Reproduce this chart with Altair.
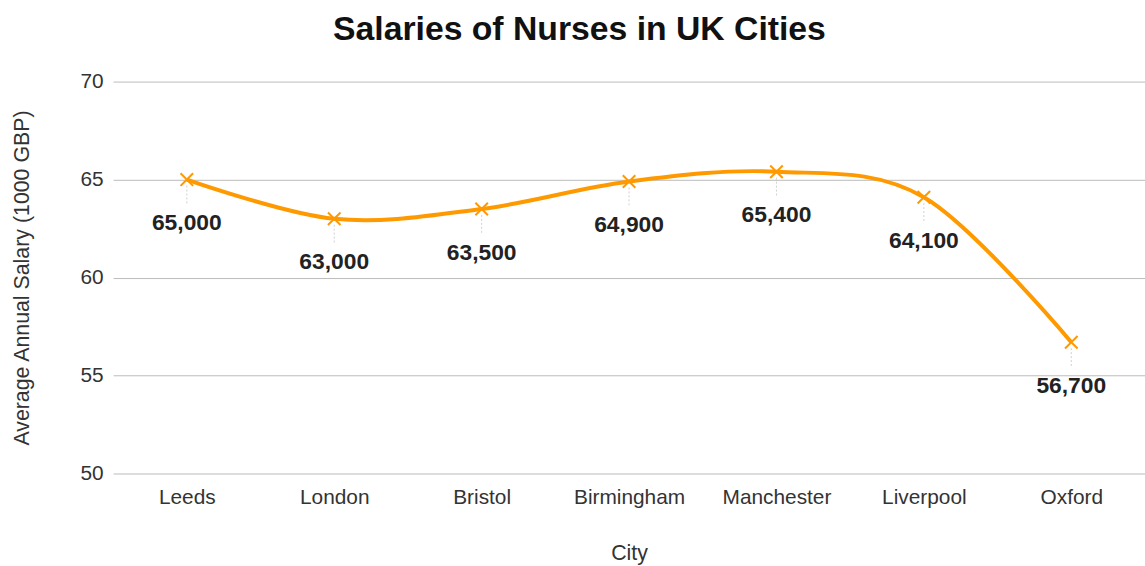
import altair as alt
import pandas as pd

cities = ["Leeds", "London", "Bristol", "Birmingham", "Manchester", "Liverpool", "Oxford"]
salaries = [65.0, 63.0, 63.5, 64.9, 65.4, 64.1, 56.7]
labels = ["65,000", "63,000", "63,500", "64,900", "65,400", "64,100", "56,700"]

df = pd.DataFrame({"City": cities, "Salary": salaries, "Label": labels})

FONT = "Liberation Sans"
ORANGE = "#FF9900"

x = alt.X("City:N", sort=cities, title="City",
          scale=alt.Scale(type="point", padding=0.5),
          axis=alt.Axis(labelAngle=0, labelPadding=13, titleY=81, titleBaseline="middle",
                        domain=False, ticks=False, grid=False))
y = alt.Y("Salary:Q", title="Average Annual Salary (1000 GBP)",
          scale=alt.Scale(domain=[50, 70], nice=False, zero=False),
          axis=alt.Axis(values=[50, 55, 60, 65, 70], labelPadding=10, domain=False, ticks=False,
                        titleX=-91, titleBaseline="middle", gridColor="#bbbbbb"))

base = alt.Chart(df).encode(x=x, y=y)

leaders = base.mark_rule(color="#d0d0d0", strokeDash=[2, 2], strokeWidth=1, yOffset=6, y2Offset=26).encode(
    y2="Salary:Q")
line = base.mark_line(color=ORANGE, strokeWidth=4, interpolate="cardinal")
points = base.mark_point(shape="M-1,-1L1,1M-1,1L1,-1", size=160, color=ORANGE, strokeWidth=2,
                         filled=False, opacity=1)
text = base.mark_text(font=FONT, fontSize=23, fontWeight="bold", color="#222222", dy=44,
                      baseline="middle").encode(text="Label:N")

chart = alt.layer(leaders, line, points, text).properties(
    width=1040, height=395,
    title=alt.TitleParams("Salaries of Nurses in UK Cities", font=FONT, fontSize=34, fontWeight="bold",
                          color="#111111", anchor="middle", offset=24, dx=-50),
    autosize=alt.AutoSizeParams(type="none"),
    padding={"left": 114, "top": 80, "right": 0, "bottom": 91},
).configure_view(stroke=None).configure_axis(
    labelFont=FONT, titleFont=FONT, labelFontSize=21, titleFontSize=21.5,
    labelColor="#333333", titleColor="#333333", titleFontWeight="normal"
)

chart.save("out.html", embed_options={"renderer": "svg", "actions": False})
